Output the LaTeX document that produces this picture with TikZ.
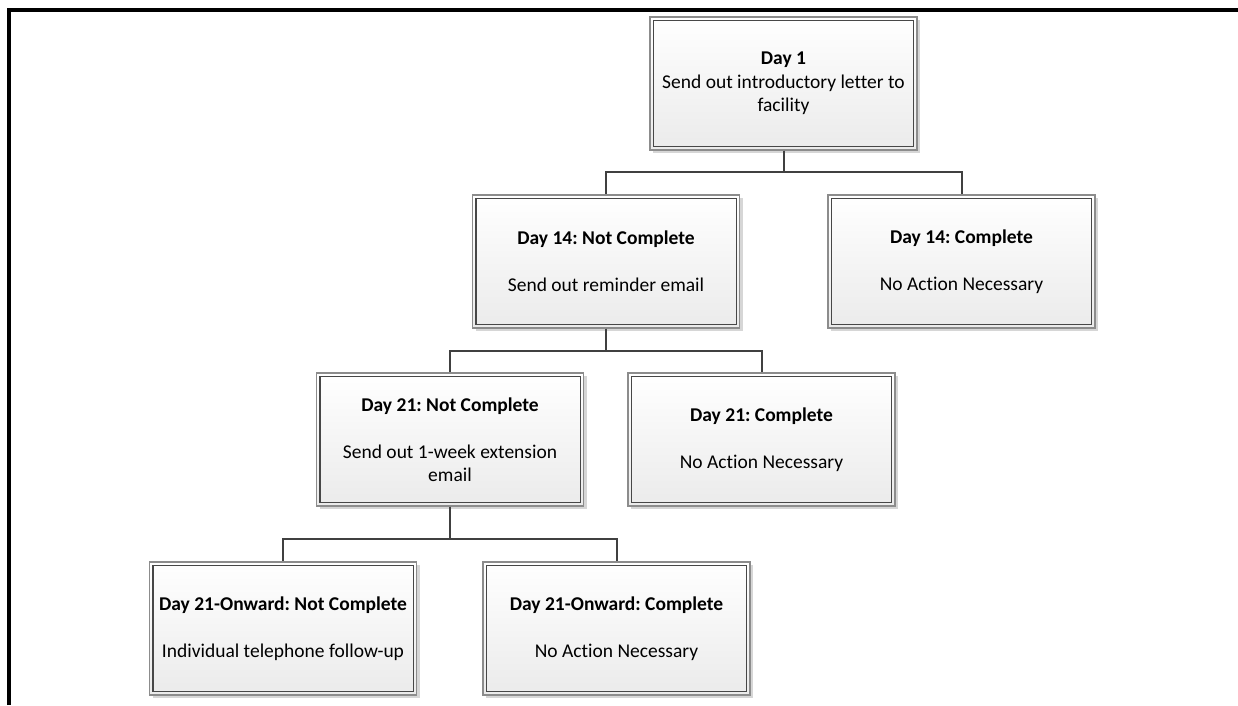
\documentclass[tikz,border=0pt]{standalone}
\usepackage{fontspec}
\setmainfont{Carlito}[Ligatures=NoCommon]
\usetikzlibrary{positioning, shadows}
\frenchspacing

\begin{document}
\begin{tikzpicture}[x=1pt, y=-1pt,
  box/.style={draw=black!45, line width=1.1pt, top color=white, bottom color=black!8, minimum width=267pt, minimum height=133pt, align=center, font=\fontsize{19.5}{23.5}\selectfont, drop shadow={shadow xshift=3pt, shadow yshift=-3pt, fill=black!16, opacity=1}},
  innerline/.style={draw=black!72, line width=1.1pt},
  link/.style={draw=black!75, line width=2pt}]
  \useasboundingbox (0,0) rectangle (1238,705);
  \draw[line width=4pt] (9,705) -- (9,10) -- (1238,10);

  \node[box] (day1) at (783.5,83.5) {\textbf{Day 1}\\Send out introductory letter to\\facility};

  \node[box] (nc14) at (606,261.5) {\textbf{Day 14: Not Complete}\\[23.5pt]Send out reminder email};
  \node[box] (c14) at (961.5,261.5) {\textbf{Day 14: Complete}\\[23.5pt]No Action Necessary};

  \node[box] (nc21) at (450,439.5) {\textbf{Day 21: Not Complete}\\[23.5pt]Send out 1-week extension\\email};
  \node[box] (c21) at (761.5,439.5) {\textbf{Day 21: Complete}\\[23.5pt]No Action Necessary};

  \node[box] (ncon) at (283,628.5) {\textbf{Day 21-Onward: Not Complete}\\[23.5pt]Individual telephone follow-up};
  \node[box] (con) at (616.5,628.5) {\textbf{Day 21-Onward: Complete}\\[23.5pt]No Action Necessary};

  % inner frame of each box
  \foreach \n in {day1, nc14, c14, nc21, c21, ncon, con}
    \draw[innerline] ([shift={(4pt,-4pt)}]\n.north west) rectangle ([shift={(-4pt,4pt)}]\n.south east);

  \draw[link] (day1.south) |- ([yshift=22pt]nc14.north) -- (nc14.north);
  \draw[link] (day1.south) |- ([yshift=22pt]c14.north) -- (c14.north);
  \draw[link] (nc14.south) |- ([yshift=21pt]nc21.north) -- (nc21.north);
  \draw[link] (nc14.south) |- ([yshift=21pt]c21.north) -- (c21.north);
  \draw[link] (nc21.south) |- ([yshift=22pt]ncon.north) -- (ncon.north);
  \draw[link] (nc21.south) |- ([yshift=22pt]con.north) -- (con.north);
\end{tikzpicture}
\end{document}
